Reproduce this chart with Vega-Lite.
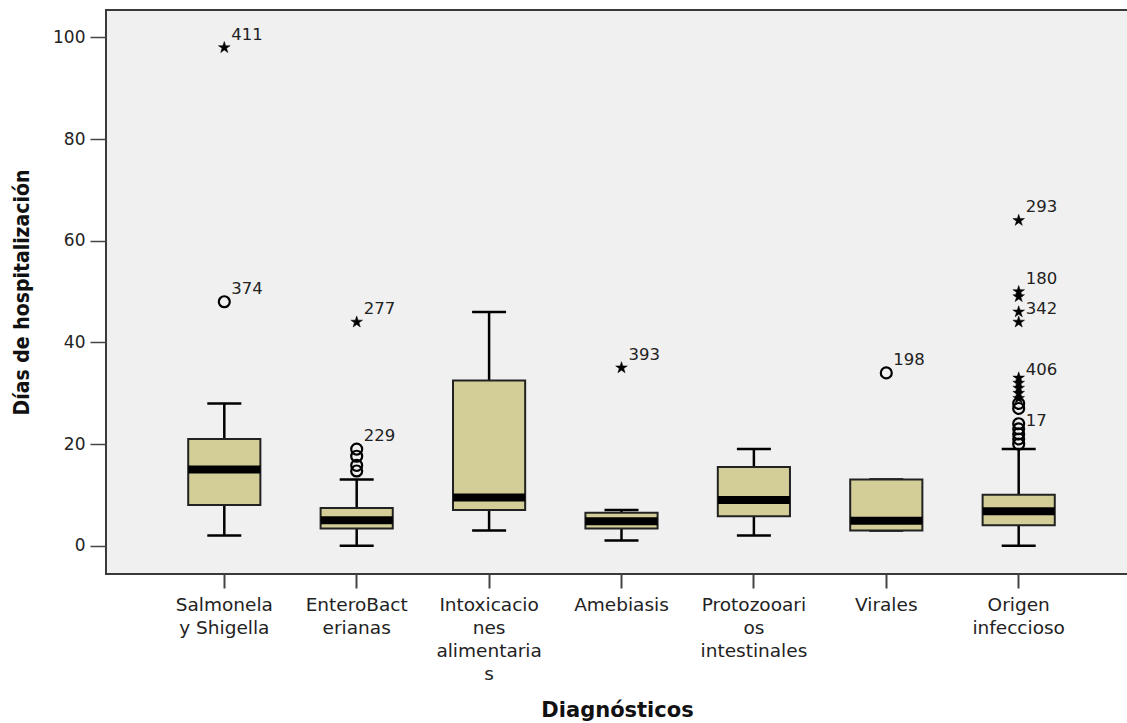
{
  "$schema": "https://vega.github.io/schema/vega-lite/v6.json",
  "width": 1040,
  "height": 564,
  "autosize": "none",
  "padding": {"left": 106, "top": 10, "right": 0, "bottom": 149},
  "background": "white",
  "config": {
    "view": {"fill": "#f0f0f0", "stroke": "#3a3a3a", "strokeWidth": 2},
    "font": "DejaVu Sans"
  },
  "datasets": {
    "boxes": [
      {"diag": "Salmonela y Shigella", "min": 2, "q1": 8, "median": 15, "q3": 21, "max": 28},
      {"diag": "EnteroBacterianas", "min": 0, "q1": 3.4, "median": 5, "q3": 7.4, "max": 13},
      {"diag": "Intoxicaciones alimentarias", "min": 3, "q1": 7, "median": 9.5, "q3": 32.5, "max": 46},
      {"diag": "Amebiasis", "min": 1, "q1": 3.4, "median": 4.8, "q3": 6.5, "max": 7},
      {"diag": "Protozooarios intestinales", "min": 2, "q1": 5.8, "median": 9, "q3": 15.5, "max": 19},
      {"diag": "Virales", "min": 3, "q1": 3, "median": 4.9, "q3": 13, "max": 13},
      {"diag": "Origen infeccioso", "min": 0, "q1": 4, "median": 6.8, "q3": 10, "max": 19}
    ],
    "outliers": [
      {"diag": "Salmonela y Shigella", "value": 98, "kind": "extreme", "label": "411"},
      {"diag": "Salmonela y Shigella", "value": 48, "kind": "outlier", "label": "374"},
      {"diag": "EnteroBacterianas", "value": 44, "kind": "extreme", "label": "277"},
      {"diag": "EnteroBacterianas", "value": 19, "kind": "outlier", "label": "229"},
      {"diag": "EnteroBacterianas", "value": 17.6, "kind": "outlier", "label": ""},
      {"diag": "EnteroBacterianas", "value": 15.8, "kind": "outlier", "label": ""},
      {"diag": "EnteroBacterianas", "value": 14.7, "kind": "outlier", "label": ""},
      {"diag": "Amebiasis", "value": 35, "kind": "extreme", "label": "393"},
      {"diag": "Virales", "value": 34, "kind": "outlier", "label": "198"},
      {"diag": "Origen infeccioso", "value": 64, "kind": "extreme", "label": "293"},
      {"diag": "Origen infeccioso", "value": 50, "kind": "extreme", "label": "180"},
      {"diag": "Origen infeccioso", "value": 49, "kind": "extreme", "label": ""},
      {"diag": "Origen infeccioso", "value": 46, "kind": "extreme", "label": ""},
      {"diag": "Origen infeccioso", "value": 44, "kind": "extreme", "label": "342"},
      {"diag": "Origen infeccioso", "value": 33, "kind": "extreme", "label": ""},
      {"diag": "Origen infeccioso", "value": 32, "kind": "extreme", "label": "406"},
      {"diag": "Origen infeccioso", "value": 31, "kind": "extreme", "label": ""},
      {"diag": "Origen infeccioso", "value": 30, "kind": "extreme", "label": ""},
      {"diag": "Origen infeccioso", "value": 29, "kind": "extreme", "label": ""},
      {"diag": "Origen infeccioso", "value": 28, "kind": "outlier", "label": ""},
      {"diag": "Origen infeccioso", "value": 27, "kind": "outlier", "label": ""},
      {"diag": "Origen infeccioso", "value": 24, "kind": "outlier", "label": ""},
      {"diag": "Origen infeccioso", "value": 23, "kind": "outlier", "label": ""},
      {"diag": "Origen infeccioso", "value": 22, "kind": "outlier", "label": "17"},
      {"diag": "Origen infeccioso", "value": 21, "kind": "outlier", "label": ""},
      {"diag": "Origen infeccioso", "value": 20, "kind": "outlier", "label": ""}
    ]
  },
  "encoding": {
    "x": {
      "field": "diag",
      "type": "nominal",
      "sort": null,
      "scale": {
        "domain": ["Salmonela y Shigella", "EnteroBacterianas", "Intoxicaciones alimentarias", "Amebiasis", "Protozooarios intestinales", "Virales", "Origen infeccioso"],
        "paddingInner": 0.455,
        "paddingOuter": 0.655,
        "align": 0.474
      },
      "axis": {
        "title": "Diagnósticos",
        "titleFont": "DejaVu Sans",
        "titleFontSize": 21,
        "titleFontWeight": "bold",
        "titleColor": "#111",
        "titlePadding": 17,
        "titleX": 511,
        "domain": false,
        "ticks": true,
        "tickSize": 14,
        "tickWidth": 2,
        "tickColor": "#444",
        "labelFont": "DejaVu Sans",
        "labelFontSize": 18.5,
        "labelColor": "#222",
        "labelAngle": 0,
        "labelPadding": 7,
        "labelLineHeight": 23,
        "labelBaseline": "top",
        "labelLimit": 0,
        "labelExpr": "datum.value == 'Salmonela y Shigella' ? ['Salmonela', 'y Shigella'] : datum.value == 'EnteroBacterianas' ? ['EnteroBact', 'erianas'] : datum.value == 'Intoxicaciones alimentarias' ? ['Intoxicacio', 'nes', 'alimentaria', 's'] : datum.value == 'Protozooarios intestinales' ? ['Protozooari', 'os', 'intestinales'] : datum.value == 'Origen infeccioso' ? ['Origen', 'infeccioso'] : datum.value"
      }
    }
  },
  "layer": [
    {
      "data": {"name": "boxes"},
      "mark": {"type": "rule", "color": "#000", "strokeWidth": 2.5, "opacity": 1},
      "encoding": {
        "y": {
          "field": "min",
          "type": "quantitative",
          "scale": {"domain": [-5.57, 105.4], "nice": false, "zero": false},
          "axis": {
            "title": "Días de hospitalización",
            "titleFont": "DejaVu Sans Condensed, Liberation Sans Narrow, DejaVu Sans",
            "titleFontSize": 21,
            "titleFontWeight": "bold",
            "titleColor": "#111",
            "titlePadding": 20,
            "values": [0, 20, 40, 60, 80, 100],
            "domain": false,
            "grid": false,
            "tickSize": 16,
            "tickWidth": 1.5,
            "tickColor": "#444",
            "labelFont": "DejaVu Sans",
            "labelFontSize": 17,
            "labelColor": "#222",
            "labelPadding": 5
          }
        },
        "y2": {"field": "max"}
      }
    },
    {
      "data": {"name": "boxes"},
      "mark": {"type": "tick", "orient": "horizontal", "color": "#000", "size": 34, "thickness": 2.5, "opacity": 1},
      "encoding": {"y": {"field": "min", "type": "quantitative"}}
    },
    {
      "data": {"name": "boxes"},
      "mark": {"type": "tick", "orient": "horizontal", "color": "#000", "size": 34, "thickness": 2.5, "opacity": 1},
      "encoding": {"y": {"field": "max", "type": "quantitative"}}
    },
    {
      "data": {"name": "boxes"},
      "mark": {"type": "bar", "fill": "#d3ce98", "stroke": "#222", "strokeWidth": 2, "opacity": 1},
      "encoding": {
        "y": {"field": "q1", "type": "quantitative"},
        "y2": {"field": "q3"}
      }
    },
    {
      "data": {"name": "boxes"},
      "mark": {"type": "tick", "orient": "horizontal", "color": "#000", "size": 72, "thickness": 8, "opacity": 1},
      "encoding": {"y": {"field": "median", "type": "quantitative"}}
    },
    {
      "data": {"name": "outliers"},
      "transform": [{"filter": "datum.kind == 'outlier'"}],
      "mark": {"type": "point", "shape": "circle", "filled": false, "stroke": "#000", "strokeWidth": 2.2, "size": 120, "opacity": 1},
      "encoding": {"y": {"field": "value", "type": "quantitative"}}
    },
    {
      "data": {"name": "outliers"},
      "transform": [{"filter": "datum.kind == 'extreme'"}],
      "mark": {"type": "point", "shape": "M0,-1L0.224,-0.309L0.951,-0.309L0.363,0.118L0.588,0.809L0,0.382L-0.588,0.809L-0.363,0.118L-0.951,-0.309L-0.224,-0.309Z", "filled": true, "fill": "#000", "stroke": "#000", "strokeWidth": 0.5, "size": 150, "opacity": 1},
      "encoding": {"y": {"field": "value", "type": "quantitative"}}
    },
    {
      "data": {"name": "outliers"},
      "transform": [{"filter": "datum.label != ''"}],
      "mark": {"type": "text", "align": "left", "baseline": "alphabetic", "dx": 7, "dy": -8, "font": "DejaVu Sans", "fontSize": 16.5, "color": "#222"},
      "encoding": {
        "y": {"field": "value", "type": "quantitative"},
        "text": {"field": "label"}
      }
    }
  ]
}
